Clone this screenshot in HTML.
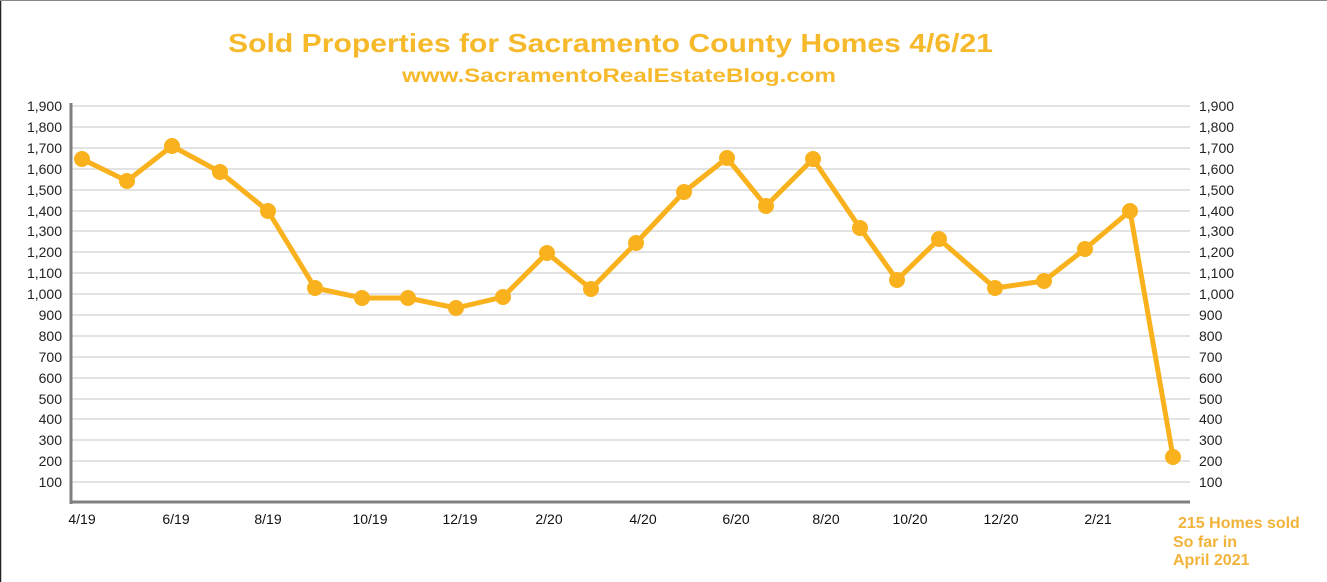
<!DOCTYPE html>
<html><head><meta charset="utf-8"><style>
html,body{margin:0;padding:0;background:#fff;}
svg{display:block;}
</style></head><body>
<svg width="1327" height="582" viewBox="0 0 1327 582" xmlns="http://www.w3.org/2000/svg" font-family="Liberation Sans, sans-serif">
<rect x="0" y="0" width="1327" height="582" fill="#fff"/>
<line x1="0.5" y1="0" x2="0.5" y2="582" stroke="#222" stroke-width="1.5"/>
<line x1="0" y1="0.5" x2="1327" y2="0.5" stroke="#888" stroke-width="1"/>
<text x="228" y="52" textLength="765" lengthAdjust="spacingAndGlyphs" font-size="26" font-weight="bold" fill="#f6b92b">Sold Properties for Sacramento County Homes 4/6/21</text>
<text x="402" y="82" textLength="434" lengthAdjust="spacingAndGlyphs" font-size="19" font-weight="bold" fill="#f6b92b">www.SacramentoRealEstateBlog.com</text>
<g stroke="#e3e3e3" stroke-width="2">
<line x1="72" x2="1190" y1="106" y2="106"/><line x1="72" x2="1190" y1="127" y2="127"/><line x1="72" x2="1190" y1="148" y2="148"/><line x1="72" x2="1190" y1="169" y2="169"/><line x1="72" x2="1190" y1="190" y2="190"/><line x1="72" x2="1190" y1="211" y2="211"/><line x1="72" x2="1190" y1="231" y2="231"/><line x1="72" x2="1190" y1="252" y2="252"/><line x1="72" x2="1190" y1="273" y2="273"/><line x1="72" x2="1190" y1="294" y2="294"/><line x1="72" x2="1190" y1="315" y2="315"/><line x1="72" x2="1190" y1="336" y2="336"/><line x1="72" x2="1190" y1="357" y2="357"/><line x1="72" x2="1190" y1="378" y2="378"/><line x1="72" x2="1190" y1="399" y2="399"/><line x1="72" x2="1190" y1="419" y2="419"/><line x1="72" x2="1190" y1="440" y2="440"/><line x1="72" x2="1190" y1="461" y2="461"/><line x1="72" x2="1190" y1="482" y2="482"/>
</g>
<line x1="71" y1="103" x2="71" y2="504" stroke="#808080" stroke-width="3"/>
<line x1="70" y1="502" x2="1190" y2="502" stroke="#808080" stroke-width="3"/>
<g font-size="14" fill="#222" text-anchor="end">
<text x="62" y="111">1,900</text><text x="62" y="132">1,800</text><text x="62" y="153">1,700</text><text x="62" y="174">1,600</text><text x="62" y="195">1,500</text><text x="62" y="216">1,400</text><text x="62" y="236">1,300</text><text x="62" y="257">1,200</text><text x="62" y="278">1,100</text><text x="62" y="299">1,000</text><text x="62" y="320">900</text><text x="62" y="341">800</text><text x="62" y="362">700</text><text x="62" y="383">600</text><text x="62" y="404">500</text><text x="62" y="424">400</text><text x="62" y="445">300</text><text x="62" y="466">200</text><text x="62" y="487">100</text>
</g>
<g font-size="14" fill="#222" text-anchor="start">
<text x="1199" y="111">1,900</text><text x="1199" y="132">1,800</text><text x="1199" y="153">1,700</text><text x="1199" y="174">1,600</text><text x="1199" y="195">1,500</text><text x="1199" y="216">1,400</text><text x="1199" y="236">1,300</text><text x="1199" y="257">1,200</text><text x="1199" y="278">1,100</text><text x="1199" y="299">1,000</text><text x="1199" y="320">900</text><text x="1199" y="341">800</text><text x="1199" y="362">700</text><text x="1199" y="383">600</text><text x="1199" y="404">500</text><text x="1199" y="424">400</text><text x="1199" y="445">300</text><text x="1199" y="466">200</text><text x="1199" y="487">100</text>
</g>
<g font-size="14" fill="#111" text-anchor="middle">
<text x="82" y="524">4/19</text><text x="176" y="524">6/19</text><text x="268" y="524">8/19</text><text x="370" y="524">10/19</text><text x="460" y="524">12/19</text><text x="549" y="524">2/20</text><text x="643" y="524">4/20</text><text x="736" y="524">6/20</text><text x="826" y="524">8/20</text><text x="910" y="524">10/20</text><text x="1001" y="524">12/20</text><text x="1098" y="524">2/21</text>
</g>
<polyline fill="none" stroke="#f9b21d" stroke-width="5" stroke-linejoin="round" points="82,159 127,181 172,146 220,172 268,211 315,288 362,298 408,298 456,308 503,297 547,253 591,289 636,243 684,192 727,158 766,206 813,159 860,228 897,280 939,239 995,288 1044,281 1085,249 1130,211 1173,457"/>
<g fill="#f9b21d">
<circle cx="82" cy="159" r="8"/><circle cx="127" cy="181" r="8"/><circle cx="172" cy="146" r="8"/><circle cx="220" cy="172" r="8"/><circle cx="268" cy="211" r="8"/><circle cx="315" cy="288" r="8"/><circle cx="362" cy="298" r="8"/><circle cx="408" cy="298" r="8"/><circle cx="456" cy="308" r="8"/><circle cx="503" cy="297" r="8"/><circle cx="547" cy="253" r="8"/><circle cx="591" cy="289" r="8"/><circle cx="636" cy="243" r="8"/><circle cx="684" cy="192" r="8"/><circle cx="727" cy="158" r="8"/><circle cx="766" cy="206" r="8"/><circle cx="813" cy="159" r="8"/><circle cx="860" cy="228" r="8"/><circle cx="897" cy="280" r="8"/><circle cx="939" cy="239" r="8"/><circle cx="995" cy="288" r="8"/><circle cx="1044" cy="281" r="8"/><circle cx="1085" cy="249" r="8"/><circle cx="1130" cy="211" r="8"/><circle cx="1173" cy="457" r="8"/>
</g>
<g font-size="16" font-weight="bold" fill="#f2b33a">
<text x="1178" y="528">215 Homes sold</text><text x="1173" y="547">So  far in</text><text x="1173" y="565">April 2021</text>
</g>
</svg>
</body></html>
